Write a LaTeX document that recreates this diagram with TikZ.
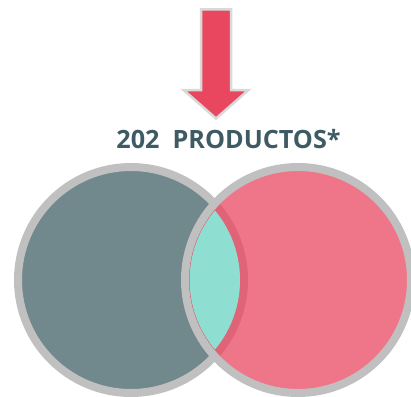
\documentclass[tikz,border=0pt]{standalone}
\usepackage{fontspec}
\setmainfont{Open Sans}
\definecolor{leftfill}{HTML}{71898C}
\definecolor{rightfill}{HTML}{EF7589}
\definecolor{lensfill}{HTML}{8EDFD2}
\definecolor{ringgrey}{HTML}{C0C0C0}
\definecolor{darkpink}{HTML}{DF6478}
\definecolor{edgepink}{HTML}{D9566B}
\definecolor{textcol}{HTML}{3E5B63}
\definecolor{arrowred}{HTML}{E9475F}
\definecolor{arrowedge}{HTML}{D9D9D9}
\tikzset{
  ring/.style={draw=ringgrey, line width=8pt},
  arrowshape/.style={fill=arrowred, draw=arrowedge, line width=2.5pt, line join=miter},
  title/.style={text=textcol, font=\bfseries\fontsize{25.2}{30}\selectfont, anchor=base, inner sep=0pt}
}
\begin{document}
\begin{tikzpicture}[x=1pt,y=-1pt]
\useasboundingbox (0,0) rectangle (411,396);
\clip (0,0) rectangle (411,396);
\coordinate (L) at (131,280);
\coordinate (Rc) at (298,280);
% left circle
\fill[leftfill] (L) circle (113pt);
\draw[ring] (L) circle (113pt);
% right circle fill
\fill[rightfill] (Rc) circle (113pt);
% left ring seen through right circle
\begin{scope}
  \clip (Rc) circle (109pt);
  \draw[draw=darkpink, line width=8pt] (L) circle (113pt);
\end{scope}
% lens
\begin{scope}
  \clip (L) circle (109pt);
  \fill[lensfill] (Rc) circle (109pt);
  \draw[edgepink, line width=1pt] (Rc) circle (109pt);
\end{scope}
% right ring on top
\draw[ring] (Rc) circle (113pt);
% arrow
\draw[arrowshape] (201,9.5) -- (231,9.5) -- (231,90) -- (248.5,90) -- (216,118.5) -- (183.5,90) -- (201,90) -- cycle;
% title
\node[title] (t) at (228.5,148) {202\ \ PRODUCTOS*};
\end{tikzpicture}
\end{document}
